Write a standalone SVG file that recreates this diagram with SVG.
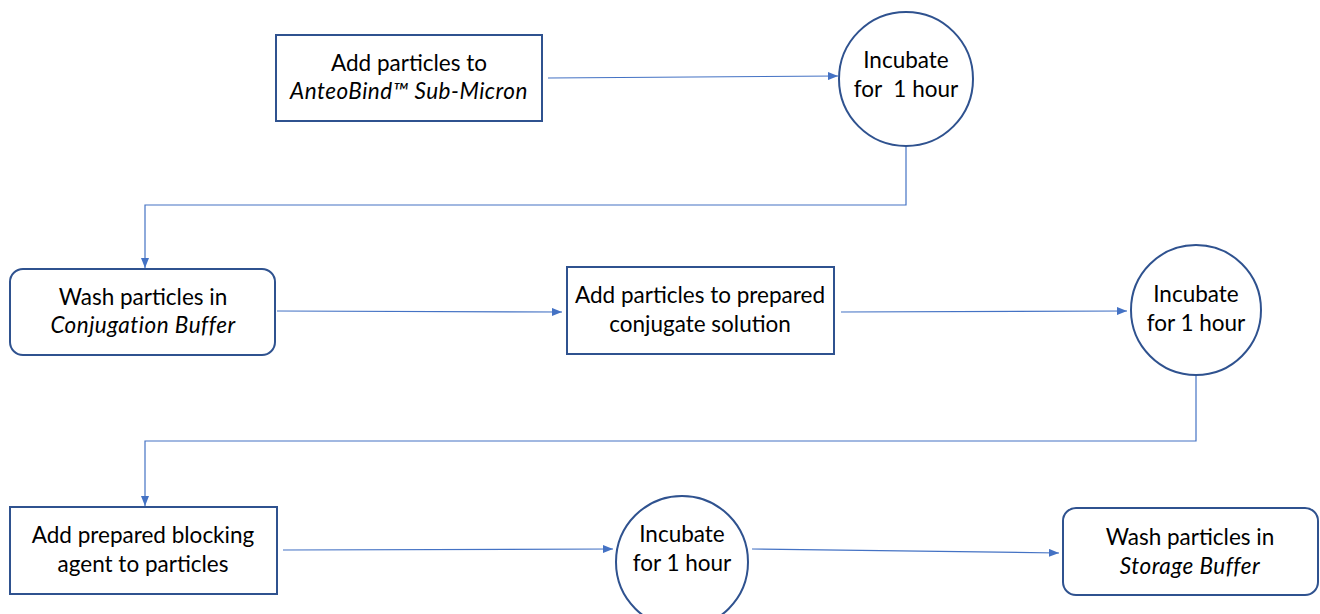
<svg xmlns="http://www.w3.org/2000/svg" width="1320" height="614" viewBox="0 0 1320 614">
<defs>
<marker id="ah" markerWidth="10" markerHeight="8" refX="10" refY="4" orient="auto" markerUnits="userSpaceOnUse">
<path d="M0,0 L10,4 L0,8 z" fill="#4472C4"/>
</marker>
<style>
.box{fill:#fff;stroke:#2F528F;stroke-width:2}
.t{font-family:Lato,"Open Sans",sans-serif;font-size:22.5px;fill:#000;text-anchor:middle}
.i{font-style:italic;letter-spacing:0.5px}
.c{fill:none;stroke:#4472C4;stroke-width:1.2}
</style>
</defs>
<rect width="1320" height="614" fill="#fff"/>
<g id="connectors">
<line class="c" x1="548" y1="78" x2="838" y2="76" marker-end="url(#ah)"/>
<polyline class="c" points="906,146 906,205 145,205 145,268" marker-end="url(#ah)"/>
<line class="c" x1="277" y1="311" x2="562" y2="312" marker-end="url(#ah)"/>
<line class="c" x1="841" y1="312" x2="1127" y2="311" marker-end="url(#ah)"/>
<polyline class="c" points="1196,376 1196,441 145,441 145,506" marker-end="url(#ah)"/>
<line class="c" x1="283" y1="550" x2="613" y2="549" marker-end="url(#ah)"/>
<line class="c" x1="752" y1="549" x2="1059" y2="553" marker-end="url(#ah)"/>
</g>
<g id="n1">
<rect class="box" x="276" y="35" width="266" height="86"/>
<text class="t" x="409" y="71">Add particles to</text>
<text class="t i" x="409" y="99">AnteoBind™ Sub-Micron</text>
</g>
<g id="n2">
<circle class="box" cx="906" cy="79" r="67"/>
<text class="t" x="906" y="68">Incubate</text>
<text class="t" x="906" y="97" xml:space="preserve">for  1 hour</text>
</g>
<g id="n3">
<rect class="box" x="10" y="269" width="265" height="86" rx="13"/>
<text class="t" x="143" y="305">Wash particles in</text>
<text class="t i" x="143" y="333">Conjugation Buffer</text>
</g>
<g id="n4">
<rect class="box" x="567" y="267" width="267" height="87"/>
<text class="t" x="700" y="303">Add particles to prepared</text>
<text class="t" x="700" y="332">conjugate solution</text>
</g>
<g id="n5">
<circle class="box" cx="1196" cy="310" r="65"/>
<text class="t" x="1196" y="302">Incubate</text>
<text class="t" x="1196" y="331">for 1 hour</text>
</g>
<g id="n6">
<rect class="box" x="10" y="507" width="267" height="87"/>
<text class="t" x="143" y="543">Add prepared blocking</text>
<text class="t" x="143" y="572">agent to particles</text>
</g>
<g id="n7">
<circle class="box" cx="682" cy="562" r="66"/>
<text class="t" x="682" y="542">Incubate</text>
<text class="t" x="682" y="571">for 1 hour</text>
</g>
<g id="n8">
<rect class="box" x="1063" y="508" width="255" height="87" rx="13"/>
<text class="t" x="1190" y="545">Wash particles in</text>
<text class="t i" x="1190" y="574">Storage Buffer</text>
</g>
</svg>
